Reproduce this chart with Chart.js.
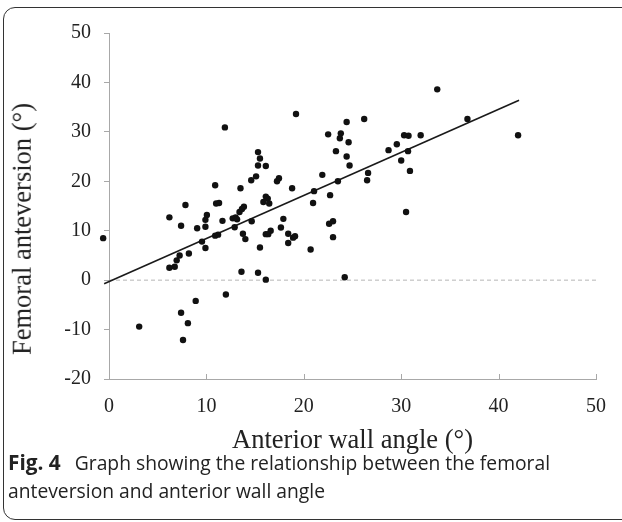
<!DOCTYPE html>
<html>
<head>
<meta charset="utf-8">
<script src="https://cdn.jsdelivr.net/npm/chart.js@4.4.0/dist/chart.umd.min.js"></script>
<style>
  html, body { margin: 0; padding: 0; background: #fff; overflow: hidden; }
  #wrap { position: relative; width: 622px; height: 522px; }
  #frame { position: absolute; left: 3px; top: 7px; width: 660px; height: 513px;
           border: 1.5px solid #333; border-radius: 12px; box-sizing: border-box; }
  #cv { position: absolute; left: 0; top: 0; }
  #ytitle { position: absolute; left: 22px; top: 229px; transform: translate(-50%, -50%) rotate(-90deg);
            white-space: nowrap; font-family: "Liberation Serif", "Times New Roman", serif;
            font-size: 26.5px; color: #222; line-height: 1; }
  #caption { position: absolute; left: 8px; top: 448px; width: 614px;
             font-family: "Open Sans", "Noto Sans", sans-serif; font-size: 19.3px;
             line-height: 28px; color: #222; white-space: nowrap; }
  #caption b { font-weight: 700; font-size: 20.8px; margin-right: 14px; }
</style>
</head>
<body>
<div id="wrap">
  <div id="frame"></div>
  <canvas id="cv" width="622" height="460"></canvas>
  <div id="ytitle">Femoral anteversion (°)</div>
  <div id="caption"><b>Fig. 4</b>Graph showing the relationship between the femoral<br>anteversion and anterior wall angle</div>
</div>
<script>
// Anterior wall angle (°) of each patient
const wallAngle = [
  -0.6, 3.1, 6.2, 6.75, 6.2, 6.95, 7.25, 7.4, 7.85, 8.2,
  7.4, 7.6, 8.1, 8.9, 9.05, 9.55, 9.9, 9.9, 9.9, 10.05,
  10.9, 10.9, 11.0, 11.3, 11.2, 11.65, 12.0, 12.7, 13.0, 13.15,
  12.9, 13.5, 13.4, 13.65, 13.85, 13.6, 13.75, 14.0, 14.65, 14.6,
  15.3, 15.5, 11.9, 15.1, 15.3, 15.3, 15.5, 16.1, 16.1, 16.3,
  15.85, 16.45, 17.25, 17.45, 18.8, 19.2, 21.05, 21.9, 22.5, 22.7,
  23.5, 23.7, 23.8, 23.3, 24.4, 24.6, 24.4, 24.7, 26.2, 26.6,
  26.5, 28.7, 29.55, 30.3, 30.75, 30.7, 30.0, 30.9, 32.0, 33.7,
  36.8, 42.0, 17.9, 17.65, 16.6, 16.1, 16.35, 18.4, 18.4, 18.9,
  19.1, 20.95, 20.7, 22.6, 23.0, 23.0, 30.5, 16.1, 24.2
];
// Femoral anteversion (°) of each patient
const anteversion = [
  8.5, -9.4, 2.5, 2.7, 12.7, 4.0, 5.0, 11.0, 15.2, 5.4,
  -6.6, -12.1, -8.7, -4.2, 10.5, 7.8, 6.5, 12.2, 10.8, 13.2,
  9.0, 19.2, 15.5, 15.6, 9.2, 12.0, -2.9, 12.5, 12.7, 12.3,
  10.7, 18.6, 13.8, 14.4, 14.85, 1.7, 9.4, 8.3, 11.9, 20.2,
  1.5, 6.6, 30.9, 21.0, 23.2, 25.9, 24.6, 23.1, 16.9, 16.5,
  15.8, 15.5, 20.0, 20.6, 18.6, 33.6, 18.0, 21.3, 29.5, 17.2,
  20.0, 28.7, 29.7, 26.1, 32.0, 27.9, 25.0, 23.2, 32.6, 21.7,
  20.2, 26.3, 27.5, 29.3, 29.2, 26.1, 24.2, 22.1, 29.3, 38.6,
  32.6, 29.3, 12.4, 10.65, 10.0, 9.3, 9.3, 9.4, 7.5, 8.6,
  8.9, 15.6, 6.2, 11.4, 11.9, 8.7, 13.8, 0.1, 0.6
];
// Regression line end points as drawn
const trendX = [-0.5, 42.1];
const trendY = [-0.75, 36.4];
// Zero reference line
const zeroX = [0, 50];
const zeroY = [0, 0];
// Axis ticks
const xTicks = [0, 10, 20, 30, 40, 50];
const yTicks = [-20, -10, 0, 10, 20, 30, 40, 50];

const serif = '"Liberation Serif", "Times New Roman", serif';
const POINT_R = 3.2;

const extras = {
  id: 'extras',
  afterDatasetsDraw(chart) {
    const c = chart.ctx, area = chart.chartArea;
    // points lying outside the axis range (library skips them); positions come from the library's own layout
    const meta = chart.getDatasetMeta(2);
    c.save();
    c.fillStyle = '#111';
    meta.data.forEach(el => {
      const inside = el.x >= area.left - 0.5 && el.x <= area.right + 0.5 && el.y >= area.top - 0.5 && el.y <= area.bottom + 0.5;
      if (!inside && !el.skip) {
        c.beginPath();
        c.arc(el.x, el.y, POINT_R, 0, Math.PI * 2);
        c.fill();
      }
    });
    // inward x-axis tick marks
    const xs = chart.scales.x, ys = chart.scales.y;
    const y0 = ys.bottom;
    c.strokeStyle = '#a8a8a8';
    c.lineWidth = 1;
    xTicks.forEach(v => {
      if (v === 0) return;
      const px = Math.round(xs.getPixelForValue(v)) + 0.5;
      c.beginPath();
      c.moveTo(px, y0);
      c.lineTo(px, y0 - 5);
      c.stroke();
    });
    c.restore();
  }
};

new Chart(document.getElementById('cv'), {
  type: 'scatter',
  data: {
    datasets: [
      {
        type: 'line',
        data: zeroX.map((x, i) => ({ x, y: zeroY[i] })),
        borderColor: '#b5b5b5',
        borderWidth: 1,
        borderDash: [4, 3],
        pointRadius: 0,
        fill: false,
        order: 3
      },
      {
        type: 'line',
        data: trendX.map((x, i) => ({ x, y: trendY[i] })),
        borderColor: '#1a1a1a',
        borderWidth: 1.6,
        pointRadius: 0,
        fill: false,
        clip: false,
        order: 2
      },
      {
        data: wallAngle.map((x, i) => ({ x, y: anteversion[i] })),
        backgroundColor: '#111',
        borderColor: '#111',
        borderWidth: 0,
        pointRadius: POINT_R,
        clip: false,
        order: 1
      }
    ]
  },
  options: {
    responsive: false,
    animation: false,
    events: [],
    layout: { padding: { left: 0, right: 25, top: 33, bottom: 0 } },
    plugins: { legend: { display: false }, tooltip: { enabled: false } },
    scales: {
      x: {
        type: 'linear',
        min: 0, max: 50,
        afterBuildTicks: s => { s.ticks = xTicks.map(v => ({ value: v })); },
        afterFit: s => { s.height = 81; },
        grid: { display: true, drawOnChartArea: false, drawTicks: false },
        border: { display: true, color: '#a8a8a8', width: 1 },
        ticks: { color: '#222', font: { family: serif, size: 20 }, padding: 16, maxRotation: 0 },
        title: { display: true, text: 'Anterior wall angle (°)', color: '#222',
                 font: { family: serif, size: 26.5 }, padding: { top: 0, bottom: 3 } }
      },
      y: {
        type: 'linear',
        min: -20, max: 50,
        afterBuildTicks: s => { s.ticks = yTicks.map(v => ({ value: v })); },
        afterFit: s => { s.width = 109; },
        grid: { display: true, drawOnChartArea: false, drawTicks: true, tickLength: 5, tickColor: '#a8a8a8' },
        border: { display: true, color: '#a8a8a8', width: 1 },
        ticks: { color: '#222', font: { family: serif, size: 20 }, padding: 13 },
        title: { display: false }
      }
    }
  },
  plugins: [extras]
});
</script>
</body>
</html>
